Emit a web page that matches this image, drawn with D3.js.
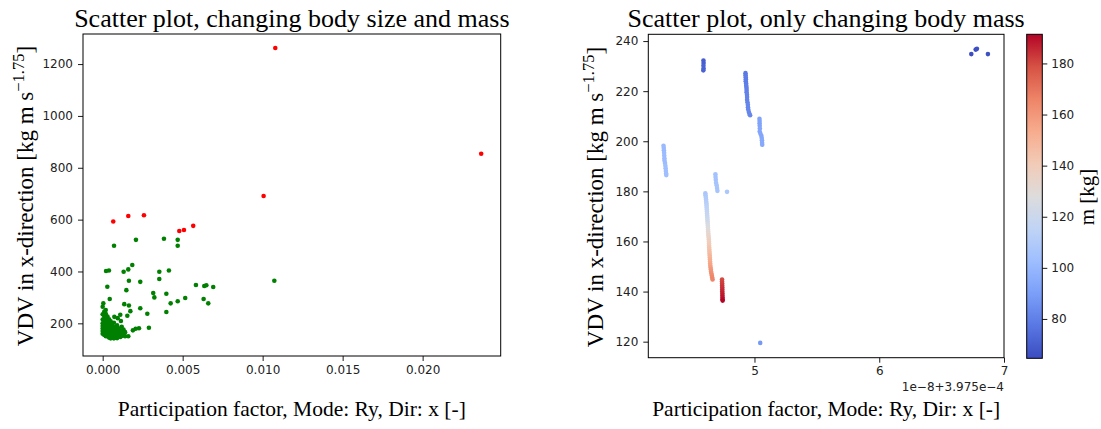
<!DOCTYPE html>
<html><head><meta charset="utf-8">
<script src="https://cdn.jsdelivr.net/npm/d3@7"></script>
<style>body{margin:0;background:#fff}svg{display:block}</style>
</head><body>
<svg id="c" width="1101" height="429"></svg>
<script>
// ---------------- DATA ----------------
// Left panel: [participation factor, VDV]
const leftRed = [[0.01079,1262],[0.01006,691],[0.00066,593],[0.0016,614],[0.00258,617],
  [0.00479,556],[0.00508,560],[0.00566,576],[0.02366,854]];
const leftGreenLoose = [[0.00071,499],[0.00208,522],[0.00383,526],[0.00469,522],[0.00469,499],
  [0.00185,425],[0.0016,408],[0.00131,399],[0.00021,402],[0.00039,404],[0.00354,399],[0.00414,404],
  [0.00354,371],[0.00164,364],[0.00235,360],[0.01073,364],[0.00029,341],[0.00148,328],[0.00316,317],
  [0.00323,300],[0.00398,314],[0.00583,348],[0.00635,344],[0.00648,347],[0.00691,340],[0.00516,298],
  [0.00469,285],[0.00425,277],[0.00631,294],[0.0066,277],[0.00044,294],[0.00135,274],[0.00164,269],
  [0.00173,247],[0.00154,229],[0.00235,258],[0.00279,237],[0.00398,244],[0.00289,183],[0.00227,181],
  [0.00206,179],[0.00189,173],[0.0016,150],[0.00125,168],[0.00119,187],[0.0011,233],[0.00114,209],
  [0.00094,220],[0.00073,225],[0.00004,277],[0.0,264],[0.00019,251]];
const leftGreenCluster = [
  [0.0005,142],[0.0007,142],[0.0009,143],
  [0.0004,145],[0.0005,145],[0.0006,145],[0.0007,145],[0.0008,145],[0.0009,146],[0.0011,147],
  [0.0002,150],[0.0003,150],[0.0005,150],[0.0007,150],[0.0010,150],[0.0012,151],[0.0014,150],
  [0.0001,155],[0.0003,155],[0.0004,155],[0.0006,155],[0.0008,155],[0.0011,155],[0.0013,156],
  [0.0000,160],[0.0002,160],[0.0004,160],[0.0005,160],[0.0007,160],[0.0009,160],[0.0012,161],
  [0.0001,165],[0.0003,165],[0.0006,165],[0.0008,165],[0.0010,165],[0.0014,166],
  [0.0000,170],[0.0002,170],[0.0004,170],[0.0005,170],[0.0007,170],[0.0009,171],[0.0011,170],
  [0.0001,175],[0.0003,175],[0.0006,175],[0.0008,175],[0.0013,176],
  [0.0000,180],[0.0002,180],[0.0004,180],[0.0005,181],[0.0007,180],[0.0010,181],
  [0.0001,185],[0.0003,185],[0.0005,185],[0.0008,186],
  [0.0000,190],[0.0002,190],[0.0004,190],[0.0006,191],[0.0009,192],
  [0.0001,195],[0.0003,195],[0.0005,196],
  [0.0000,200],[0.0002,200],[0.0004,201],[0.0007,202],
  [0.0001,207],[0.0003,207],[0.0005,208],
  [0.0000,215],[0.0002,215],[0.0004,216],
  [0.0001,225],[0.0003,226],
  [0.0000,235],[0.0002,236],[0.0001,245]];

// Right panel: [x offset (1e-8, +3.975e-4), VDV, body mass m]
const rightPts = [
  // upper-left column
  [4.271,198.2,101],[4.273,197.3,101],[4.274,196.4,101],[4.276,195.4,102],[4.277,194.3,102],
  [4.278,193.2,102],[4.279,192.3,102],[4.283,191.3,102],[4.286,190.2,103],[4.288,189.2,103],
  [4.290,188.1,103],[4.292,187.1,103],[4.293,186.5,103],
  // top dark cluster
  [4.591,232.2,70],[4.592,231.2,70],[4.591,230.1,71],[4.592,229.0,71],[4.590,228.3,71],
  // long blue column
  [4.928,227.2,78],[4.929,226.4,78],[4.930,225.6,79],[4.931,224.8,79],[4.930,224.0,79],
  [4.933,223.1,79],[4.934,222.2,80],[4.936,221.4,80],[4.937,220.5,80],[4.937,219.6,80],
  [4.940,218.6,81],[4.941,217.7,81],[4.941,216.6,81],[4.944,215.6,81],[4.947,214.6,82],
  [4.948,213.6,82],[4.950,212.7,82],[4.955,211.7,82],[4.960,210.9,82],[4.965,210.4,82],
  // column right of it
  [5.040,209.0,92],[5.041,208.1,92],[5.041,207.2,92],[5.042,206.2,92],[5.043,205.1,93],
  [5.042,203.9,93],[5.048,203.0,93],[5.055,202.2,93],[5.058,201.3,93],[5.060,200.4,94],
  [5.061,199.4,94],[5.062,198.6,94],
  // small column near 180-187
  [4.687,186.8,105],[4.688,185.7,105],[4.690,184.6,105],[4.692,183.4,106],[4.697,182.4,106],
  [4.700,181.3,106],[4.703,180.2,106],
  [4.780,179.8,108],
  // long gradient column
  [4.606,179.2,107],[4.608,178.4,108],[4.610,177.6,109],[4.612,176.8,110],[4.613,176.0,111],
  [4.615,175.2,112],[4.616,174.4,113],[4.617,173.6,114],[4.618,172.8,115],[4.619,172.0,116],
  [4.620,171.2,117],[4.621,170.4,118],[4.622,169.6,119],[4.623,168.8,121],[4.624,168.0,122],
  [4.625,167.2,124],[4.626,166.4,126],[4.627,165.6,127],[4.628,164.8,129],[4.629,164.0,131],
  [4.630,163.2,132],[4.631,162.4,134],[4.633,161.6,135],[4.634,160.8,137],[4.635,160.0,138],
  [4.636,159.2,140],[4.636,158.4,141],[4.637,157.6,143],[4.638,156.8,144],[4.639,156.0,146],
  [4.640,155.2,147],[4.641,154.4,149],[4.642,153.6,150],[4.643,152.8,152],[4.644,152.0,153],
  [4.645,151.2,155],[4.646,150.4,156],[4.648,149.6,158],[4.650,148.8,160],[4.652,148.0,161],
  [4.655,147.2,163],[4.658,146.4,164],[4.661,145.6,165],[4.664,144.8,166],
  // dark red cluster
  [4.740,144.8,180],[4.740,144.0,181],[4.741,143.2,182],[4.741,142.4,183],[4.742,141.6,184],
  [4.742,140.8,185],[4.742,140.0,186],[4.743,139.2,187],[4.743,138.4,188],[4.744,137.6,189],
  [4.744,136.9,190],[4.745,136.4,191.4],
  // isolated low point
  [5.046,119.5,88],
  // top right
  [6.738,234.8,65],[6.773,236.6,64.6],[6.783,236.9,66],[6.871,234.8,66]];

const leftXTicks = [0, 0.005, 0.010, 0.015, 0.020];
const leftYTicks = [200, 400, 600, 800, 1000, 1200];
const rightXTicks = [5, 6, 7];
const rightYTicks = [120, 140, 160, 180, 200, 220, 240];
const cbarTicks = [80, 100, 120, 140, 160, 180];
const coolwarm = ['#3b4cc0','#5977e3','#7b9ff9','#9ebeff','#c0d4f5','#dddcdc',
                  '#f2cbb7','#f7ac8e','#ee8468','#d65244','#b40426'];

// ---------------- DRAW ----------------
const svg = d3.select('#c');
svg.append('rect').attr('width',1101).attr('height',429).attr('fill','#fff');
const serif = "'Liberation Serif','Times New Roman',serif";
const sans = "'DejaVu Sans',sans-serif";

function styleAxis(g){
  g.select('.domain').remove();
  g.selectAll('.tick line').attr('stroke','#000').attr('stroke-width',0.9);
  g.selectAll('.tick text').attr('font-family',sans).attr('font-size','12px').attr('fill','#222');
}

// Left panel
const L = {x0:83, x1:500.7, y0:34, y1:356};
const lx = d3.scaleLinear().domain([-0.00123, 0.02488]).range([L.x0, L.x1]);
const ly = d3.scaleLinear().domain([74, 1316]).range([L.y1, L.y0]);
svg.append('g').attr('transform',`translate(0,${L.y1})`)
  .call(d3.axisBottom(lx).tickValues(leftXTicks).tickFormat(d3.format('.3f')).tickSize(5).tickPadding(4))
  .call(styleAxis);
svg.append('g').attr('transform',`translate(${L.x0},0)`)
  .call(d3.axisLeft(ly).tickValues(leftYTicks).tickFormat(d3.format('d')).tickSize(5).tickPadding(5))
  .call(styleAxis);
const lg = svg.append('g');
lg.selectAll('circle.g').data(leftGreenCluster.concat(leftGreenLoose)).join('circle')
  .attr('cx',d=>lx(d[0])).attr('cy',d=>ly(d[1])).attr('r',2.3).attr('fill','#008000');
lg.selectAll('circle.r').data(leftRed).join('circle').attr('class','r')
  .attr('cx',d=>lx(d[0])).attr('cy',d=>ly(d[1])).attr('r',2.3).attr('fill','#ff0000');
svg.append('rect').attr('x',L.x0).attr('y',L.y0).attr('width',L.x1-L.x0).attr('height',L.y1-L.y0)
  .attr('fill','none').attr('stroke','#000').attr('stroke-width',1);

// Right panel
const R = {x0:648.3, x1:1004, y0:34.3, y1:357.7};
const rx = d3.scaleLinear().domain([4.149, 7.0]).range([R.x0, R.x1]);
const ry = d3.scaleLinear().domain([113.6, 242.7]).range([R.y1, R.y0]);
const mExt = d3.extent(rightPts, d=>d[2]);
const cScale = d3.scaleLinear()
  .domain(coolwarm.map((c,i)=>mExt[0]+i*(mExt[1]-mExt[0])/(coolwarm.length-1)))
  .range(coolwarm).interpolate(d3.interpolateRgb);
svg.append('g').attr('transform',`translate(0,${R.y1})`)
  .call(d3.axisBottom(rx).tickValues(rightXTicks).tickFormat(d3.format('d')).tickSize(5).tickPadding(4))
  .call(styleAxis);
svg.append('g').attr('transform',`translate(${R.x0},0)`)
  .call(d3.axisLeft(ry).tickValues(rightYTicks).tickSize(5).tickPadding(5))
  .call(styleAxis);
svg.append('g').selectAll('circle').data(rightPts).join('circle')
  .attr('cx',d=>rx(d[0])).attr('cy',d=>ry(d[1])).attr('r',2.3).attr('fill',d=>cScale(d[2]));
svg.append('rect').attr('x',R.x0).attr('y',R.y0).attr('width',R.x1-R.x0).attr('height',R.y1-R.y0)
  .attr('fill','none').attr('stroke','#000').attr('stroke-width',1);
svg.append('text').attr('x',R.x1).attr('y',391).attr('text-anchor','end')
  .attr('font-family',sans).attr('font-size','12px').attr('fill','#222').text('1e\u22128+3.975e\u22124');

// Colorbar
const C = {x0:1026.7, x1:1042.3, y0:34.3, y1:358.3};
const cy = d3.scaleLinear().domain(mExt).range([C.y1, C.y0]);
const grad = svg.append('defs').append('linearGradient').attr('id','cw')
  .attr('x1',0).attr('y1',1).attr('x2',0).attr('y2',0);
coolwarm.forEach((c,i)=>grad.append('stop').attr('offset',i/(coolwarm.length-1)).attr('stop-color',c));
svg.append('rect').attr('x',C.x0).attr('y',C.y0).attr('width',C.x1-C.x0).attr('height',C.y1-C.y0)
  .attr('fill','url(#cw)').attr('stroke','#000').attr('stroke-width',1);
svg.append('g').attr('transform',`translate(${C.x1},0)`)
  .call(d3.axisRight(cy).tickValues(cbarTicks).tickSize(5).tickPadding(4))
  .call(styleAxis);

// Texts
function title(x, s){
  svg.append('text').attr('x',x).attr('y',27).attr('text-anchor','middle')
    .attr('font-family',serif).attr('font-size','26px').attr('fill','#000').text(s);
}
title((L.x0+L.x1)/2, 'Scatter plot, changing body size and mass');
title((R.x0+R.x1)/2, 'Scatter plot, only changing body mass');
function xlabel(x){
  svg.append('text').attr('x',x).attr('y',416).attr('text-anchor','middle')
    .attr('font-family',serif).attr('font-size','21.5px').attr('fill','#000')
    .text('Participation factor, Mode: Ry, Dir: x [-]');
}
xlabel((L.x0+L.x1)/2); xlabel((R.x0+R.x1)/2);
function ylabel(bx, cyy){
  const t = svg.append('text').attr('transform',`translate(${bx},${cyy}) rotate(-90)`)
    .attr('text-anchor','middle').attr('font-family',serif).attr('font-size','23px').attr('fill','#000');
  t.append('tspan').text('VDV in x-direction [kg m s');
  t.append('tspan').attr('dy','-0.55em').attr('font-size','16.5px').text('\u22121.75');
  t.append('tspan').attr('dy','0.4em').text(']');
}
ylabel(33, 196); ylabel(603, 197);
svg.append('text').attr('transform',`translate(1094,197) rotate(-90)`).attr('text-anchor','middle')
  .attr('font-family',serif).attr('font-size','21px').attr('fill','#000').text('m [kg]');
</script>
</body></html>
